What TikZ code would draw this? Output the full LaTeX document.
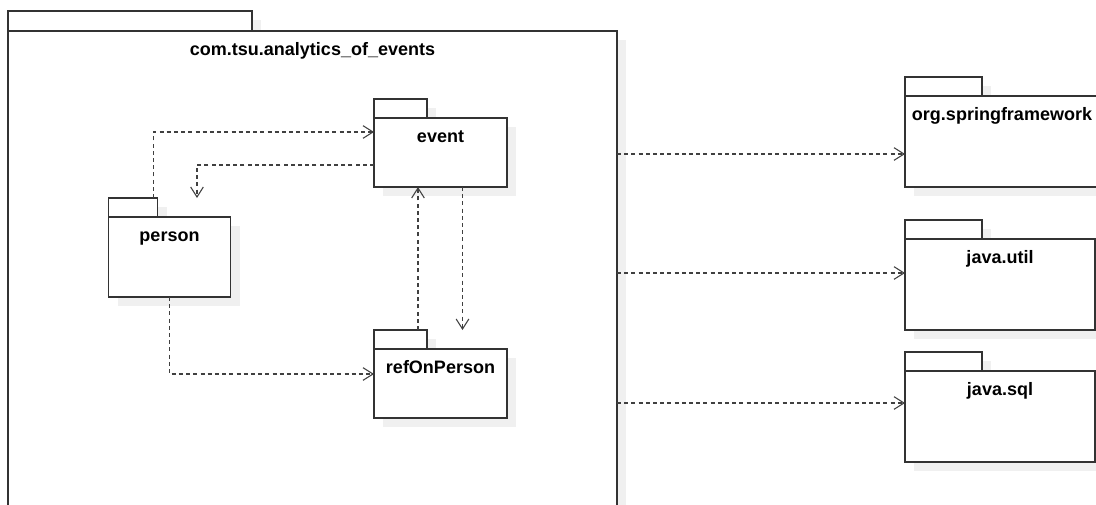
\documentclass[tikz,border=0pt]{standalone}
\usepackage{fontspec}
\setmainfont{Liberation Sans}
\usetikzlibrary{arrows.meta,shadows,calc}

% one drawing unit = 0.75pt, y grows downwards
\tikzset{
  x=0.75pt, y=-0.75pt,
  pkgline/.style={draw=black!80, line width=1.1pt, fill=white, inner sep=0pt, outer sep=0pt,
    drop shadow={shadow xshift=6.75pt, shadow yshift=-6.75pt, fill=black!6, opacity=1}},
  pkgtab/.style={pkgline, anchor=north west, minimum height=14.25pt},
  pkgbody/.style={pkgline, anchor=north west,
    font=\bfseries\fontsize{13.5}{16}\selectfont, text height=18pt},
  dep/.style={draw=black!75, line width=0.8pt, dash pattern=on 3pt off 2.4pt,
    -{Straight Barb[length=7.5pt,width=9.5pt,line width=0.8pt]}}
}

\begin{document}
\begin{tikzpicture}
\useasboundingbox (0,0) rectangle (1096,504);
\clip (0,0) rectangle (1096,504);

% enclosing package
\node[pkgtab, minimum width=183pt, minimum height=15pt] (root-tab) at (8,11) {};
\node[pkgbody, minimum width=456.75pt, text depth=356.25pt] (root) at (root-tab.south west)
  {com.tsu.analytics\_of\_events};

% inner packages
\node[pkgtab, minimum width=39.75pt] (event-tab) at (374,99) {};
\node[pkgbody, minimum width=99.75pt, text depth=33.75pt] (event) at (event-tab.south west) {event};

\node[pkgtab, minimum width=36.75pt] (person-tab) at (108.5,198) {};
\node[pkgbody, minimum width=91.5pt, text depth=42pt] (person) at (person-tab.south west) {person};

\node[pkgtab, minimum width=39.75pt] (ref-tab) at (374,330) {};
\node[pkgbody, minimum width=99.75pt, text depth=33.75pt] (ref) at (ref-tab.south west) {refOnPerson};

% external packages
\node[pkgtab, minimum width=57.75pt] (spring-tab) at (905,77) {};
\node[pkgbody, minimum width=145.5pt, text depth=50.25pt] (spring) at (spring-tab.south west) {org.springframework};

\node[pkgtab, minimum width=57.75pt] (util-tab) at (905,220) {};
\node[pkgbody, minimum width=142.5pt, text depth=50.25pt] (util) at (util-tab.south west) {java.util};

\node[pkgtab, minimum width=57.75pt] (sql-tab) at (905,352) {};
\node[pkgbody, minimum width=142.5pt, text depth=50.25pt] (sql) at (sql-tab.south west) {java.sql};

% dependencies inside the enclosing package
\draw[dep] ($(person-tab.north east)+(-3pt,0)$) |- ($(event.west)+(0,15.375pt)$);
\draw[dep] ($(event.west)+(0,-9.375pt)$) -| ($(person-tab.north -| person.north)+(20.625pt,0)$);

\coordinate (r1) at ($(ref-tab.north east)+(-6.75pt,0)$);
\draw[dep] (r1) -- (r1 |- event.south);
\coordinate (e1) at ($(event.south)+(16.5pt,0)$);
\draw[dep] (e1) -- (e1 |- ref-tab.north);

\draw[dep] (person.south) |- ($(ref.west)+(0,7.125pt)$);

% dependencies on external packages
\coordinate (s1) at ($(spring.west)+(0,-9.375pt)$);
\draw[dep] (root.east |- s1) -- (s1);
\coordinate (u1) at ($(util.west)+(0,8.625pt)$);
\draw[dep] (root.east |- u1) -- (u1);
\coordinate (q1) at ($(sql.west)+(0,10.125pt)$);
\draw[dep] (root.east |- q1) -- (q1);
\end{tikzpicture}
\end{document}
